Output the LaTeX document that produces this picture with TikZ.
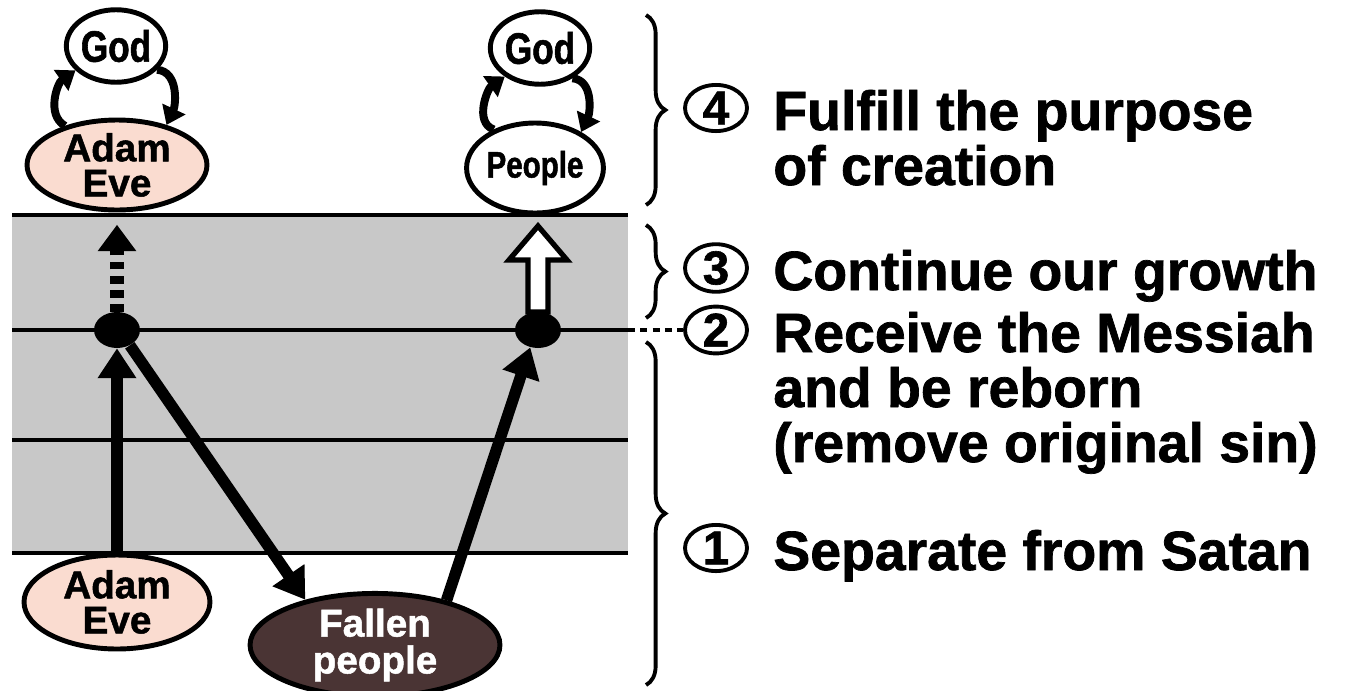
\documentclass[tikz,border=0pt]{standalone}
\usepackage{fontspec}
\setmainfont{Liberation Sans}
\newfontfamily\heavyfont{Liberation Sans}[BoldFeatures={FakeBold=1.3}]
\newfontfamily\narrowfont{Liberation Sans}[FakeStretch=0.8, BoldFeatures={FakeBold=1.3}]
\usetikzlibrary{arrows.meta, shapes.geometric, decorations.pathreplacing, calc}
\definecolor{bandgray}{HTML}{C8C8C8}
\definecolor{skinpink}{HTML}{FADCD0}
\definecolor{fallenbrown}{HTML}{4A3434}
\tikzset{
  being/.style={
    ellipse,
    draw=black,
    line width=2.8pt,
    inner sep=0pt,
    align=center,
    font=\heavyfont\bfseries\fontsize{22}{20}\selectfont
  },
  godnode/.style={
    being,
    fill=white,
    minimum width=1.9cm,
    minimum height=1.45cm,
    font=\narrowfont\bfseries\fontsize{25}{25}\selectfont
  },
  adamnode/.style={being, fill=skinpink, minimum width=3.6cm, minimum height=1.8cm},
  peoplenode/.style={
    being,
    fill=white,
    minimum width=2.2cm,
    minimum height=1.8cm,
    font=\narrowfont\bfseries\fontsize{21}{21}\selectfont
  },
  fallennode/.style={
    being,
    fill=fallenbrown,
    text=white,
    minimum width=5.0cm,
    minimum height=1.8cm,
    font=\heavyfont\bfseries\fontsize{22}{21}\selectfont
  },
  dotnode/.style={ellipse, fill=black, inner sep=0pt, minimum width=0.92cm, minimum height=0.72cm},
  stepnum/.style={
    ellipse,
    draw=black,
    line width=2.2pt,
    inner sep=0pt,
    minimum width=1.24cm,
    minimum height=0.9cm,
    font=\heavyfont\bfseries\fontsize{27}{27}\selectfont
  },
  steptext/.style={anchor=base west, inner sep=0pt, font=\heavyfont\bfseries\fontsize{31.5}{36}\selectfont},
  bandline/.style={line width=2.8pt, draw=black},
  growarrow/.style={line width=6.5pt, -{Triangle[length=17pt, width=21pt]}},
  dasharrow/.style={line width=7.5pt, dash pattern=on 4.5pt off 3.5pt, -{Triangle[length=15pt, width=21pt]}},
  cyclearrow/.style={line width=4.5pt, -{Triangle[length=10pt, width=14pt]}},
  hollowarrow/.style={draw=black, fill=white, line width=3pt, line join=miter},
  dotline/.style={line width=2.8pt, dash pattern=on 4pt off 3pt},
  stepbrace/.style={line width=2.2pt, decorate, decoration={brace, amplitude=11pt}}
}

\begin{document}
\begin{tikzpicture}[x=0.02cm, y=-0.02cm]
  \useasboundingbox (0,0) rectangle (1348,690);

  % grey growth band
  \fill[bandgray] (12,215) rectangle (628,553);
  \foreach \yy in {215,330,440,553}
    \draw[bandline] (12,\yy) -- (628,\yy);
  \coordinate (lineend) at (628,330);

  % beings
  \node[godnode] (god1) at (116,46) {God};
  \node[adamnode] (adam1) at (117,165) {Adam\\Eve};
  \node[godnode] (god2) at (540,48) {God};
  \node[peoplenode] (people) at (535,168) {People};
  \node[adamnode, minimum width=3.72cm, minimum height=1.88cm] (adam2) at (117,602) {Adam\\Eve};
  \node[fallennode] (fallen) at (375,645) {Fallen\\people};
  \node[dotnode] (ldot) at (117,330) {};
  \node[dotnode] (rdot) at (538,330) {};

  % give and take
  \draw[cyclearrow] (adam1.143) to[out=150, in=215] (god1.211);
  \draw[cyclearrow] (god1.-30) to[out=-5, in=65] (adam1.39);
  \draw[cyclearrow] (people.137) to[out=160, in=215] (god2.219);
  \draw[cyclearrow] (god2.-43) to[out=-5, in=65] (people.38);

  % growth paths
  \draw[growarrow] (adam2.north) -- (ldot.south);
  \draw[dasharrow] (ldot.north) -- ([yshift=-7pt]adam1.south);
  \draw[growarrow] (ldot.-50) -- (fallen.147);
  \draw[growarrow] (fallen.32) -- (rdot.-114);
  \draw[hollowarrow] ($(rdot)+(0,-104)$) -- ($(rdot)+(29,-70)$) -- ($(rdot)+(10,-70)$)
    -- ($(rdot)+(10,-18)$) -- ($(rdot)+(-10,-18)$) -- ($(rdot)+(-10,-70)$)
    -- ($(rdot)+(-29,-70)$) -- cycle;

  % stages
  \draw[stepbrace] (646,15) -- (646,205);
  \draw[stepbrace] (646,225) -- (646,318);
  \draw[stepbrace] (646,342) -- (646,685);

  \node[stepnum] (num4) at (716,108) {4};
  \node[stepnum] (num3) at (716,268) {3};
  \node[stepnum] (num2) at (716,330) {2};
  \node[stepnum] (num1) at (716,548) {1};
  \draw[dotline] (lineend) -- (num2.west);

  \node[steptext] (t4a) at (773,130) {Fulfill the purpose};
  \node[steptext] (t4b) at (773,185) {of creation};
  \node[steptext] (t3a) at (773,290) {Continue our growth};
  \node[steptext] (t2a) at (773,352) {Receive the Messiah};
  \node[steptext] (t2b) at (773,407) {and be reborn};
  \node[steptext] (t2c) at (773,462) {(remove original sin)};
  \node[steptext] (t1a) at (773,570) {Separate from Satan};
\end{tikzpicture}
\end{document}
